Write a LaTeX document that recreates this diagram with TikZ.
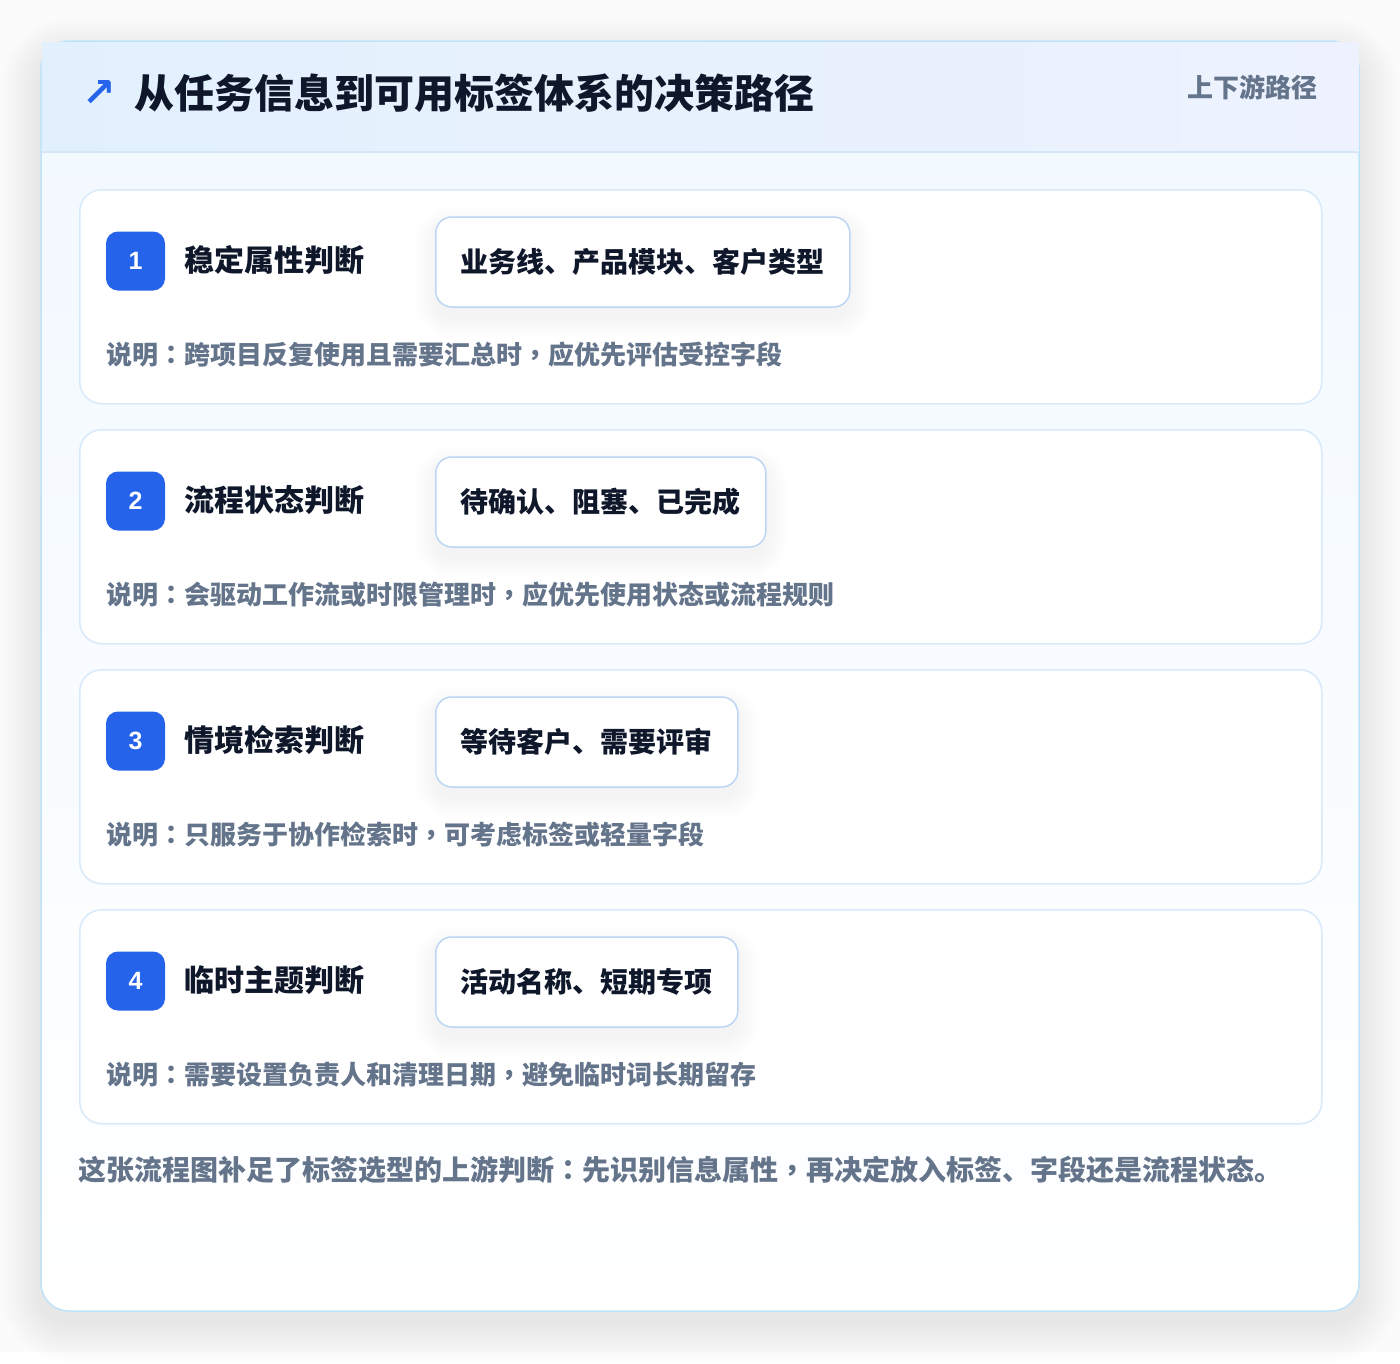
\documentclass[tikz,border=0pt]{standalone}
\usepackage{fontspec}
\setmainfont{Noto Sans CJK SC}
\newfontfamily\puncfont{Noto Sans CJK TC}
\newfontfamily\arrowfont{DejaVu Sans}
\newfontfamily\numfont{Liberation Sans}
\newcommand\cco{{\puncfont ：}}
\newcommand\ccm{{\puncfont ，}}
\definecolor{pagebg}{HTML}{FBFBFC}
\definecolor{outerline}{HTML}{BFE3F8}
\definecolor{headA}{HTML}{E2F0FD}
\definecolor{headB}{HTML}{EDF2FE}
\definecolor{headline}{HTML}{D5E6F8}
\definecolor{bodytop}{HTML}{F1F8FF}
\definecolor{cardline}{HTML}{D8E9FA}
\definecolor{tagline}{HTML}{BCD6F4}
\definecolor{badgeblue}{HTML}{2563EB}
\definecolor{ink}{HTML}{0F172A}
\definecolor{muted}{HTML}{64748B}
\pgfdeclarelayer{base}
\pgfdeclarelayer{cards}
\pgfdeclarelayer{tagshadow}
\pgfsetlayers{base,cards,tagshadow,main}
\tikzset{
  outercard/.style={draw=outerline, line width=1.5pt, rounded corners=28pt,
    top color=bodytop, bottom color=white},
  itemcard/.style={draw=cardline, line width=1.5pt, rounded corners=22pt, fill=white,
    minimum width=1242pt, minimum height=214pt, inner sep=0pt},
  badge/.style={fill=badgeblue, rounded corners=12pt, minimum width=59pt, minimum height=59pt,
    inner sep=0pt, text=white, font=\numfont\fontsize{25}{28}\selectfont\bfseries},
  steptitle/.style={anchor=west, inner sep=0pt, text=ink, font=\fontsize{30}{36}\selectfont\bfseries},
  tagbox/.style={anchor=west, draw=tagline, line width=1.5pt, rounded corners=16pt, fill=white,
    inner xsep=25pt, inner ysep=0pt, minimum height=90pt, text=ink,
    font=\fontsize{28}{34}\selectfont\bfseries},
  desc/.style={anchor=west, inner sep=0pt, text=muted, font=\fontsize{26}{32}\selectfont\bfseries},
  softshade/.style={fill=black, opacity=#1},
}
\newcommand\stepcard[5]{%
  \begin{pgfonlayer}{cards}
  \node[itemcard, anchor=north west] (card#2) at (79,#1) {};
  \end{pgfonlayer}
  \node[badge] (badge#2) at (135.5,#1+72) {#2};
  \node[steptitle] (title#2) at (184,#1+71) {#3};
  \node[tagbox] (tag#2) at (435,#1+73) {#4};
  \begin{pgfonlayer}{tagshadow}
  \foreach \s [evaluate=\s as \r using 16+\s] in {0,2,...,20}
    \fill[softshade=0.0045, rounded corners=\r pt]
      ([shift={(-\s,-\s+10)}]tag#2.north west) rectangle ([shift={(\s,\s+10)}]tag#2.south east);
  \end{pgfonlayer}
  \node[desc] (desc#2) at (106,#1+166) {#5};
}
\begin{document}
\begin{tikzpicture}[x=1pt,y=-1pt]
\begin{pgfonlayer}{base}
\fill[pagebg] (0,0) rectangle (1400,1352);
\foreach \s [evaluate=\s as \r using 28+\s] in {2,4,...,40}
  \fill[softshade=0.0042, rounded corners=\r pt] (41-\s,41-\s+16) rectangle (1359+\s,1311+\s+12);
\path[outercard] (41,41) rectangle (1359,1311);
\shade[left color=headA, right color=headB] (41.75,42) rectangle (1358.25,152);
\draw[headline, line width=1.5pt] (41.75,152) -- (1358.25,152);
\end{pgfonlayer}
\useasboundingbox (0,0) rectangle (1400,1352);
\node[anchor=center, inner sep=0pt, text=badgeblue, font=\arrowfont\fontsize{40}{44}\selectfont\bfseries] (arrow) at (99,93) {↗};
\node[anchor=west, inner sep=0pt, text=ink, font=\fontsize{40}{48}\selectfont\bfseries] (maintitle) at (134,93) {从任务信息到可用标签体系的决策路径};
\node[anchor=east, inner sep=0pt, text=muted, font=\fontsize{26}{32}\selectfont\bfseries] (subtitle) at (1318,87) {上下游路径};
\stepcard{189}{1}{稳定属性判断}{业务线、产品模块、客户类型}{说明\cco 跨项目反复使用且需要汇总时\ccm 应优先评估受控字段}
\stepcard{429}{2}{流程状态判断}{待确认、阻塞、已完成}{说明\cco 会驱动工作流或时限管理时\ccm 应优先使用状态或流程规则}
\stepcard{669}{3}{情境检索判断}{等待客户、需要评审}{说明\cco 只服务于协作检索时\ccm 可考虑标签或轻量字段}
\stepcard{909}{4}{临时主题判断}{活动名称、短期专项}{说明\cco 需要设置负责人和清理日期\ccm 避免临时词长期留存}
\node[anchor=west, inner sep=0pt, text=muted, font=\fontsize{28}{34}\selectfont\bfseries] (footer) at (78,1170) {这张流程图补足了标签选型的上游判断\cco 先识别信息属性\ccm 再决定放入标签、字段还是流程状态。};
\end{tikzpicture}
\end{document}
